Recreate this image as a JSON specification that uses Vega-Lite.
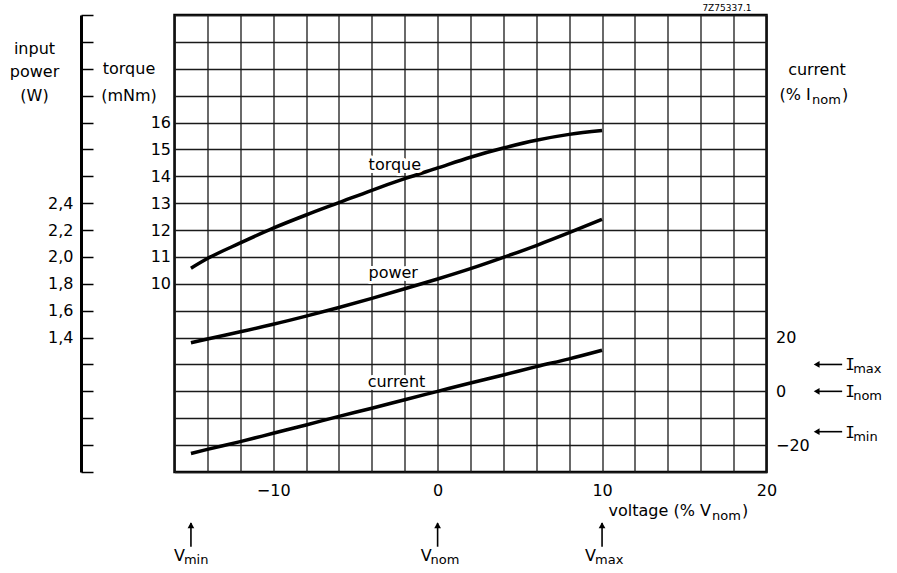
{
  "$schema": "https://vega.github.io/schema/vega-lite/v6.json",
  "width": 592,
  "height": 457,
  "autosize": "none",
  "padding": {"left": 174.5, "top": 15, "right": 130.5, "bottom": 101},
  "background": "white",
  "config": {
    "font": "DejaVu Sans",
    "view": {"stroke": "black", "strokeWidth": 2.5},
    "axis": {
      "labelFont": "DejaVu Sans",
      "labelFontSize": 16,
      "labelColor": "black",
      "titleFont": "DejaVu Sans",
      "titleFontSize": 16,
      "titleFontWeight": "normal",
      "titleColor": "black",
      "gridColor": "#1a1a1a",
      "gridWidth": 1.3,
      "gridOpacity": 1,
      "labelFlush": false,
      "labelOverlap": false
    },
    "text": {"font": "DejaVu Sans", "fontSize": 16, "color": "black"}
  },
  "title": {"text": "7Z75337.1", "anchor": "end", "frame": "group", "fontSize": 9, "fontWeight": "normal", "font": "DejaVu Sans", "color": "black", "dx": -15, "dy": 9, "offset": 3},
  "datasets": {
    "torque": [
      {"v": -15, "t": 10.58}, {"v": -14, "t": 10.94}, {"v": -12, "t": 11.52}, {"v": -10, "t": 12.07},
      {"v": -8, "t": 12.56}, {"v": -6, "t": 13.02}, {"v": -4, "t": 13.48}, {"v": -2, "t": 13.91},
      {"v": 0, "t": 14.31}, {"v": 2, "t": 14.71}, {"v": 4, "t": 15.05}, {"v": 6, "t": 15.34},
      {"v": 8, "t": 15.56}, {"v": 10, "t": 15.7}
    ],
    "power": [
      {"v": -15, "p": 1.362}, {"v": -14, "p": 1.39}, {"v": -12, "p": 1.443}, {"v": -10, "p": 1.499},
      {"v": -8, "p": 1.56}, {"v": -6, "p": 1.624}, {"v": -4, "p": 1.692}, {"v": -2, "p": 1.763},
      {"v": 0, "p": 1.836}, {"v": 2, "p": 1.913}, {"v": 4, "p": 1.997}, {"v": 6, "p": 2.085},
      {"v": 8, "p": 2.18}, {"v": 10, "p": 2.28}
    ],
    "current": [
      {"v": -15, "c": -23.1}, {"v": -14, "c": -21.6}, {"v": -12, "c": -18.7}, {"v": -10, "c": -15.6},
      {"v": -8, "c": -12.5}, {"v": -6, "c": -9.3}, {"v": -4, "c": -6.3}, {"v": -2, "c": -3.1},
      {"v": 0, "c": 0}, {"v": 2, "c": 3.1}, {"v": 4, "c": 6.1}, {"v": 6, "c": 9.2},
      {"v": 8, "c": 12.1}, {"v": 10, "c": 15.3}
    ],
    "vmarks": [{"v": -15, "sub": "min"}, {"v": 0, "sub": "nom"}, {"v": 10, "sub": "max"}],
    "imarks": [{"c": 10, "sub": "max"}, {"c": 0, "sub": "nom"}, {"c": -15, "sub": "min"}]
  },
  "layer": [
    {
      "data": {"name": "torque"},
      "mark": {"type": "line", "color": "black", "strokeWidth": 3.5, "interpolate": "monotone"},
      "encoding": {
        "x": {
          "field": "v", "type": "quantitative",
          "scale": {"domain": [-16, 20], "nice": false, "zero": false},
          "axis": {
            "values": [-16, -14, -12, -10, -8, -6, -4, -2, 0, 2, 4, 6, 8, 10, 12, 14, 16, 18, 20],
            "tickCount": 40,
            "labelExpr": "datum.value % 10 === 0 ? datum.label : ''",
            "grid": true, "ticks": false, "domain": false, "labelPadding": 10,
            "title": null
          }
        },
        "y": {
          "field": "t", "type": "quantitative",
          "scale": {"domain": [3, 20], "nice": false, "zero": false},
          "axis": {
            "orient": "left",
            "values": [3, 4, 5, 6, 7, 8, 9, 10, 11, 12, 13, 14, 15, 16, 17, 18, 19, 20],
            "format": "d",
            "labelExpr": "datum.value >= 10 && datum.value <= 16 ? datum.label : ''",
            "grid": true, "ticks": false, "domain": false, "labelPadding": 4,
            "title": ["torque", "(mNm)"], "titleAngle": 0, "titleAlign": "center",
            "titleBaseline": "alphabetic", "titleX": -46, "titleY": 58, "titleLineHeight": 27
          }
        }
      }
    },
    {
      "data": {"name": "power"},
      "mark": {"type": "line", "color": "black", "strokeWidth": 3.5, "interpolate": "monotone"},
      "encoding": {
        "x": {"field": "v", "type": "quantitative"},
        "y": {
          "field": "p", "type": "quantitative",
          "scale": {"domain": [0.4, 3.8], "nice": false, "zero": false},
          "axis": {
            "orient": "left", "offset": 93.5,
            "values": [0.4, 0.6, 0.8, 1.0, 1.2, 1.4, 1.6, 1.8, 2.0, 2.2, 2.4, 2.6, 2.8, 3.0, 3.2, 3.4, 3.6, 3.8],
            "tickCount": 40,
            "labelExpr": "datum.value > 1.39 && datum.value < 2.41 ? replace(format(datum.value, '.1f'), '.', ',') : ''",
            "grid": false, "domain": true, "domainColor": "black", "domainWidth": 3,
            "ticks": true, "tickSize": -12, "tickWidth": 1.5, "tickColor": "black",
            "labelPadding": 20,
            "title": ["input", "power", "(W)"], "titleAngle": 0, "titleAlign": "center",
            "titleBaseline": "alphabetic", "titleX": -47, "titleY": 38, "titleLineHeight": 23.5
          }
        }
      }
    },
    {
      "data": {"name": "current"},
      "mark": {"type": "line", "color": "black", "strokeWidth": 3.5, "interpolate": "monotone"},
      "encoding": {
        "x": {"field": "v", "type": "quantitative"},
        "y": {
          "field": "c", "type": "quantitative",
          "scale": {"domain": [-30, 140], "nice": false, "zero": false},
          "axis": {
            "orient": "right",
            "values": [-20, 0, 20],
            "grid": false, "domain": false, "ticks": false, "labelPadding": 9,
            "title": "current", "titleAngle": 0, "titleAlign": "center",
            "titleBaseline": "alphabetic", "titleX": 50, "titleY": 59
          }
        }
      }
    },
    {
      "data": {"values": [{"v": -2.6, "t": 14.23, "label": "torque"}, {"v": -2.7, "t": 10.2, "label": "power"}, {"v": -2.5, "t": 6.15, "label": "current"}]},
      "mark": {"type": "text", "align": "center", "baseline": "alphabetic", "stroke": "white", "strokeWidth": 6, "fill": "white", "strokeJoin": "round"},
      "encoding": {
        "x": {"field": "v", "type": "quantitative"},
        "y": {"field": "t", "type": "quantitative", "axis": null, "scale": {"domain": [3, 20], "nice": false, "zero": false}},
        "text": {"field": "label"}
      }
    },
    {
      "data": {"values": [{"v": -2.6, "t": 14.23, "label": "torque"}, {"v": -2.7, "t": 10.2, "label": "power"}, {"v": -2.5, "t": 6.15, "label": "current"}]},
      "mark": {"type": "text", "align": "center", "baseline": "alphabetic"},
      "encoding": {
        "x": {"field": "v", "type": "quantitative"},
        "y": {"field": "t", "type": "quantitative", "axis": null, "scale": {"domain": [3, 20], "nice": false, "zero": false}},
        "text": {"field": "label"}
      }
    },
    {
      "data": {"values": [{"part": "voltage (% V"}]},
      "mark": {"type": "text", "align": "left", "baseline": "alphabetic", "dx": 6.5},
      "encoding": {
        "x": {"datum": 10},
        "y": {"datum": 1.36, "axis": null, "scale": {"domain": [3, 20], "nice": false, "zero": false}},
        "text": {"field": "part"}
      }
    },
    {
      "data": {"values": [{"part": "nom"}]},
      "mark": {"type": "text", "align": "left", "baseline": "alphabetic", "dx": 110, "dy": 4, "fontSize": 13},
      "encoding": {
        "x": {"datum": 10},
        "y": {"datum": 1.36, "axis": null, "scale": {"domain": [3, 20], "nice": false, "zero": false}},
        "text": {"field": "part"}
      }
    },
    {
      "data": {"values": [{"part": ")"}]},
      "mark": {"type": "text", "align": "left", "baseline": "alphabetic", "dx": 140},
      "encoding": {
        "x": {"datum": 10},
        "y": {"datum": 1.36, "axis": null, "scale": {"domain": [3, 20], "nice": false, "zero": false}},
        "text": {"field": "part"}
      }
    },
    {
      "data": {"values": [{"part": "(% I"}]},
      "mark": {"type": "text", "align": "left", "baseline": "alphabetic", "dx": 13},
      "encoding": {
        "x": {"datum": 20},
        "y": {"datum": 16.84, "axis": null, "scale": {"domain": [3, 20], "nice": false, "zero": false}},
        "text": {"field": "part"}
      }
    },
    {
      "data": {"values": [{"part": "nom"}]},
      "mark": {"type": "text", "align": "left", "baseline": "alphabetic", "dx": 45.5, "dy": 4, "fontSize": 13},
      "encoding": {
        "x": {"datum": 20},
        "y": {"datum": 16.84, "axis": null, "scale": {"domain": [3, 20], "nice": false, "zero": false}},
        "text": {"field": "part"}
      }
    },
    {
      "data": {"values": [{"part": ")"}]},
      "mark": {"type": "text", "align": "left", "baseline": "alphabetic", "dx": 75.5},
      "encoding": {
        "x": {"datum": 20},
        "y": {"datum": 16.84, "axis": null, "scale": {"domain": [3, 20], "nice": false, "zero": false}},
        "text": {"field": "part"}
      }
    },
    {
      "data": {"name": "vmarks"},
      "mark": {"type": "rule", "color": "black", "strokeWidth": 1.6},
      "encoding": {
        "x": {"field": "v", "type": "quantitative"},
        "y": {"datum": 1.1, "axis": null, "scale": {"domain": [3, 20], "nice": false, "zero": false}},
        "y2": {"datum": 0.22}
      }
    },
    {
      "data": {"name": "vmarks"},
      "mark": {"type": "point", "shape": "triangle-up", "filled": true, "color": "black", "size": 45, "opacity": 1},
      "encoding": {
        "x": {"field": "v", "type": "quantitative"},
        "y": {"datum": 1.02, "axis": null, "scale": {"domain": [3, 20], "nice": false, "zero": false}}
      }
    },
    {
      "data": {"name": "vmarks"},
      "mark": {"type": "text", "align": "right", "baseline": "alphabetic", "dx": -6, "text": "V"},
      "encoding": {
        "x": {"field": "v", "type": "quantitative"},
        "y": {"datum": -0.31, "axis": null, "scale": {"domain": [3, 20], "nice": false, "zero": false}}
      }
    },
    {
      "data": {"name": "vmarks"},
      "mark": {"type": "text", "align": "left", "baseline": "alphabetic", "dx": -7, "dy": 3, "fontSize": 13},
      "encoding": {
        "x": {"field": "v", "type": "quantitative"},
        "y": {"datum": -0.31, "axis": null, "scale": {"domain": [3, 20], "nice": false, "zero": false}},
        "text": {"field": "sub"}
      }
    },
    {
      "data": {"name": "imarks"},
      "mark": {"type": "rule", "color": "black", "strokeWidth": 1.6},
      "encoding": {
        "x": {"datum": 23.1},
        "x2": {"datum": 24.6},
        "y": {"field": "c", "type": "quantitative", "axis": null, "scale": {"domain": [-30, 140], "nice": false, "zero": false}}
      }
    },
    {
      "data": {"name": "imarks"},
      "mark": {"type": "point", "shape": "triangle-left", "filled": true, "color": "black", "size": 45, "opacity": 1},
      "encoding": {
        "x": {"datum": 23.05},
        "y": {"field": "c", "type": "quantitative", "axis": null, "scale": {"domain": [-30, 140], "nice": false, "zero": false}}
      }
    },
    {
      "data": {"name": "imarks"},
      "mark": {"type": "text", "align": "left", "baseline": "alphabetic", "dx": 3, "dy": 6, "text": "I", "font": "DejaVu Sans Mono"},
      "encoding": {
        "x": {"datum": 24.6},
        "y": {"field": "c", "type": "quantitative", "axis": null, "scale": {"domain": [-30, 140], "nice": false, "zero": false}}
      }
    },
    {
      "data": {"name": "imarks"},
      "mark": {"type": "text", "align": "left", "baseline": "alphabetic", "dx": 11, "dy": 9, "fontSize": 13},
      "encoding": {
        "x": {"datum": 24.6},
        "y": {"field": "c", "type": "quantitative", "axis": null, "scale": {"domain": [-30, 140], "nice": false, "zero": false}},
        "text": {"field": "sub"}
      }
    }
  ],
  "resolve": {"scale": {"y": "independent"}}
}
